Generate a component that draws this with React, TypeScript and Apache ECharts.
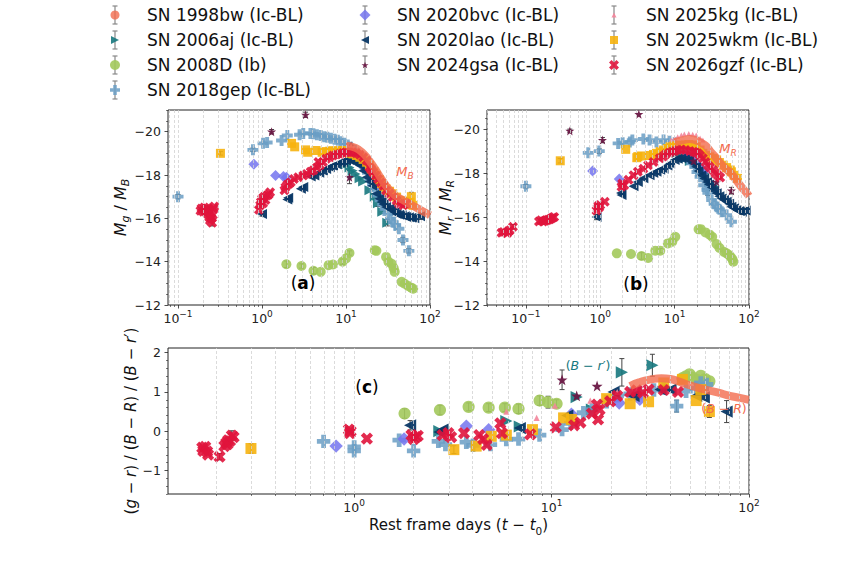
import React, { useEffect, useRef } from "react";
import * as echarts from "echarts";

const FONT = "DejaVu Sans";

const SN_NAMES = [
  "SN 1998bw (Ic-BL)", "SN 2006aj (Ic-BL)", "SN 2008D (Ib)", "SN 2018gep (Ic-BL)",
  "SN 2020bvc (Ic-BL)", "SN 2020lao (Ic-BL)", "SN 2024gsa (Ic-BL)", "SN 2025kg (Ic-BL)",
  "SN 2025wkm (Ic-BL)", "SN 2026gzf (Ic-BL)",
];

// ---------- Panel (a): M_g / M_B  [days, mag, (err)] ----------
const A_1998bw = [[10,-19.35],[13,-19.25],[16,-19.0],[19,-18.65],[22,-18.3],[26,-17.85],[30,-17.5],[35,-17.2],[40,-17.0],[50,-16.8],[60,-16.62],[70,-16.48],[80,-16.35],[90,-16.24],[100,-16.14]];
const A_2006aj = [[10,-18.5],[11,-18.35],[12,-18.2],[13,-18.05],[14.5,-17.85],[16,-17.7],[19,-17.3],[22,-17.0],[24,-16.7,0.15],[27,-16.3],[31,-15.8,0.15]];
const A_2008D = [[1.95,-13.88,0.15],[2.95,-13.8,0.1],[4.1,-13.58,0.15],[5.0,-13.53],[6.2,-13.84],[7.0,-13.87],[9.1,-14.0,0.12],[10,-14.15],[11,-14.4,0.1],[22,-14.53],[23,-14.5],[30,-14.22],[32,-14.0],[35,-13.9],[37,-13.7],[38,-13.53],[46,-13.07],[50,-12.98],[55,-12.88],[60,-12.8],[63,-12.75]];
const A_2018gep = [[0.1,-17.0,0.1],[0.78,-19.16,0.08],[1.03,-19.46],[1.15,-19.5],[1.71,-19.59],[2.0,-19.82],[2.8,-19.86],[3.1,-19.92],[3.77,-19.92],[4.1,-19.9],[4.5,-19.86],[5.0,-19.82],[5.5,-19.77],[6.0,-19.74],[6.6,-19.7],[7.3,-19.65],[8.0,-19.6],[8.8,-19.53],[9.6,-19.46],[10.5,-19.38],[11.5,-19.28],[12.7,-19.13],[13.9,-18.97],[15.3,-18.7],[16.8,-18.36],[18,-18.1],[19.3,-17.82],[20.7,-17.55],[22.2,-17.29],[24,-17.05],[25.5,-16.83],[27.3,-16.62],[29.2,-16.44],[31.5,-16.2],[33.9,-15.98],[36.5,-15.82],[39,-15.68],[42.6,-15.52],[47.7,-15.0,0.12],[56,-14.5,0.1]];
const A_2020bvc = [[0.8,-18.5],[1.45,-17.98],[1.8,-17.93],[1.95,-17.9],[12,-18.8],[14,-18.6],[17,-18.3],[21,-17.9],[25,-17.5]];
const A_2020lao = [[1.0,-16.2,0.1],[2.0,-16.87],[2.05,-16.95],[2.9,-17.36],[3.1,-17.45],[3.8,-17.93],[4.2,-17.98],[4.8,-18.1],[5.3,-18.2],[5.8,-18.28],[6.4,-18.36],[7.0,-18.42],[7.7,-18.5],[8.5,-18.56],[9.2,-18.6],[10,-18.67],[11,-18.68],[12.1,-18.64],[13.3,-18.55],[14.6,-18.44],[16,-18.2],[17.6,-17.9],[19,-17.7],[20.5,-17.5],[23,-17.13],[25,-16.9],[26.5,-16.75],[28,-16.65],[30,-16.52],[33,-16.45],[35,-16.37],[38,-16.28],[40,-16.2],[43,-16.17],[46,-16.14],[50,-16.1],[52,-16.06],[56,-16.05],[60,-16.03,0.12],[65,-16.0],[76,-16.1,0.15]];
const A_2024gsa = [[1.3,-20.0,0.1],[3.3,-20.78,0.12],[11.5,-19.35],[11,-17.9,0.3]];
const A_2025kg = [[10.5,-19.4],[11.5,-19.35],[12.5,-19.3],[14,-19.2],[15.5,-19.05],[17,-18.9]];
const A_2025wkm = [[0.32,-19.0,0.08],[2.25,-19.46],[2.45,-19.3],[3.3,-19.16],[3.5,-19.05],[4.4,-19.13],[5.2,-19.05],[5.8,-19.08],[6.4,-19.1],[7.0,-19.12],[7.7,-19.1],[8.5,-19.12],[9.2,-19.13],[10,-19.05],[11,-19.0],[12.1,-18.97],[13.3,-18.9],[14.6,-18.82],[16,-18.72],[17.6,-18.59],[19,-18.45],[20,-18.28],[21.5,-18.15],[23,-17.98],[25,-17.78],[26.5,-17.6],[28,-17.48],[30,-17.36],[33,-17.25],[36,-17.13],[40,-16.98],[43,-16.83],[47,-16.8],[52,-16.75],[55,-16.65],[58,-16.75],[60,-17.0,0.2],[63,-16.6]];
const A_2026gzf = [[0.185,-16.35],[0.19,-16.45],[0.2,-16.3],[0.205,-16.5],[0.21,-16.4],[0.215,-16.3],[0.22,-16.45],[0.225,-16.2],[0.23,-16.4],[0.235,-16.05],[0.24,-15.9],[0.245,-16.25],[0.25,-16.0],[0.255,-15.8,0.15],[0.26,-16.15],[0.265,-16.45],[0.27,-16.55],[0.92,-16.4],[0.95,-16.6],[0.97,-16.75],[1.0,-16.9],[1.03,-16.7],[1.06,-17.0],[1.1,-16.85],[1.15,-17.05],[1.2,-17.1],[1.25,-17.2],[1.85,-17.3],[1.9,-17.44],[2.0,-17.55],[2.1,-17.6],[2.2,-17.67],[2.4,-17.82],[2.7,-17.9],[3.1,-17.98],[3.4,-18.05],[3.8,-18.15],[4.1,-18.22],[4.5,-18.35],[4.7,-18.6],[4.9,-18.45],[5.3,-18.6],[5.8,-18.75],[6.4,-18.82],[7.0,-18.9],[7.7,-18.95],[8.4,-18.97],[9.2,-19.02],[10,-19.05],[11,-19.05],[12,-19.05],[13.3,-19.0],[14.6,-18.93],[16,-18.82],[17.6,-18.67],[19,-18.36],[20,-18.25],[21,-18.13],[22.5,-17.98],[24,-17.82],[26,-17.65],[28,-17.5],[30,-17.28],[33,-17.13],[36,-16.98],[40,-16.82],[43,-16.67],[48,-16.6],[52,-16.67]];

// ---------- Panel (b): M_r / M_R ----------
const B_1998bw = [[10,-19.4],[13,-19.5],[16,-19.55],[19,-19.5],[22,-19.4],[26,-19.25],[30,-19.0],[35,-18.75],[40,-18.5],[45,-18.3],[50,-18.15],[55,-18.05],[60,-17.9],[70,-17.6],[80,-17.35],[90,-17.15],[100,-16.95]];
const B_2006aj = [[10.5,-18.9],[12,-18.8],[14,-18.67],[16,-18.55],[19.5,-18.44],[22,-18.2],[25,-17.98],[29,-17.6],[33.7,-17.4]];
const B_2008D = [[1.67,-14.35],[2.59,-14.32],[3.59,-14.23,0.15],[4.4,-14.14],[5.5,-14.47],[6.4,-14.47,0.1],[8.1,-14.8],[9.3,-14.88],[10.2,-15.1],[21,-15.44],[22.5,-15.45],[26,-15.3],[29.6,-15.2],[32,-15.1],[36.6,-14.77],[40,-14.6],[46,-14.42],[50,-14.35],[54,-14.27],[57,-14.18],[60,-14.08],[61.5,-13.97]];
const B_2018gep = [[0.1,-17.4,0.08],[0.69,-18.92],[0.97,-19.0,0.1],[1.74,-19.35],[2.0,-19.38],[2.5,-19.42],[2.7,-19.5],[3.8,-19.55],[4.6,-19.5],[5.7,-19.42],[7.1,-19.5],[8.5,-19.45],[10,-19.38],[12.3,-19.2],[14,-18.95],[15.5,-18.67],[17,-18.45],[18.7,-18.29],[20,-18.05],[22,-17.83],[24.6,-17.45],[27.3,-17.23],[28,-17.1,0.12],[31.5,-16.77],[34,-16.6],[36.8,-16.47],[40,-16.35],[43,-16.24],[50,-16.09],[58,-15.79]];
const B_2020bvc = [[0.79,-18.1],[1.8,-17.73],[15,-18.8],[18,-18.6],[21,-18.35],[25,-18.1]];
const B_2020lao = [[0.89,-16.0,0.12],[1.93,-17.0],[1.9,-17.1],[2.8,-17.4],[3.2,-17.6],[3.8,-17.76],[4.6,-17.9],[5.2,-18.0],[5.7,-18.06],[6.4,-18.15],[7.1,-18.2],[8.0,-18.35],[8.7,-18.44],[10,-18.6],[11,-18.65],[12.3,-18.67],[14,-18.65],[15.5,-18.6],[17.5,-18.45],[19.5,-18.29],[21,-18.1],[23,-17.9],[25,-17.75],[27.3,-17.6],[29,-17.48],[31.5,-17.35],[34,-17.2],[36.8,-17.08],[40,-16.95],[43,-16.85],[46,-16.78],[50,-16.7],[54,-16.6],[58,-16.47],[63,-16.4],[68,-16.32],[74,-16.28],[80,-16.24,0.12],[90,-16.3,0.12]];
const B_2024gsa = [[0.39,-19.92,0.08],[1.07,-19.5,0.12],[3.3,-20.68],[18,-18.55],[36.7,-17.6],[58,-17.2,0.15]];
const B_2025kg = [[9,-19.5],[10,-19.58],[11,-19.65],[12.3,-19.73],[13.5,-19.78],[15.5,-19.8],[17.5,-19.77],[19.5,-19.73],[22,-19.6],[24,-19.5]];
const B_2025wkm = [[0.29,-18.56,0.1],[2.2,-19.08],[3.1,-18.7],[3.2,-18.75,0.12],[3.6,-18.78],[4.6,-18.8],[5.2,-18.85],[5.7,-18.9],[6.4,-18.98],[7.1,-19.05],[8.0,-19.12],[8.7,-19.2],[10,-19.23],[11,-19.25],[12.3,-19.27],[14,-19.28],[15.5,-19.3],[17.5,-19.28],[19.5,-19.2],[22,-19.05],[24,-18.9],[27,-18.8],[29.7,-18.74],[33,-18.67],[36.7,-18.6],[40,-18.48],[45,-18.36],[50,-18.25],[56,-18.14],[58,-18.06,0.12],[63,-17.9],[70,-17.76]];
const B_2026gzf = [[0.047,-15.29],[0.05,-15.32],[0.056,-15.26],[0.058,-15.35],[0.061,-15.4],[0.067,-15.56,0.1],[0.15,-15.8],[0.16,-15.85],[0.17,-15.8],[0.18,-15.83],[0.19,-15.86],[0.2,-15.88],[0.21,-15.9],[0.22,-15.94],[0.23,-15.98],[0.24,-16.0],[0.89,-16.3],[0.92,-16.4],[0.94,-16.5],[0.97,-16.45],[1.0,-16.55],[1.15,-16.7],[1.93,-17.38],[1.97,-17.53],[2.1,-17.45],[2.4,-17.7],[2.8,-17.9],[3.2,-18.06],[3.8,-18.2],[4.4,-18.36],[5.2,-18.5],[6.3,-18.67],[7.0,-18.75],[7.6,-18.86],[8.5,-18.92],[9.3,-18.97],[10,-19.0],[11,-19.05],[12.3,-19.07],[14,-19.05],[16,-19.0],[17.9,-18.97],[19,-18.95],[20.5,-18.9],[22,-18.8],[24,-18.67],[26,-18.5],[28,-18.36],[30,-18.25],[33,-18.14],[35,-18.0],[38,-17.9],[41,-17.8]];

// ---------- Panel (c): colours ----------
const C_1998bw = [[25,1.15],[28,1.25],[32,1.32],[36,1.35],[40,1.33],[45,1.25],[50,1.17],[60,1.06],[70,0.98],[80,0.9],[90,0.85],[100,0.8]];
const C_2006aj = [[2.7,0.0],[5.9,0.26],[6.9,0.12],[13.4,0.87],[16,0.55],[22.7,1.5,0.35],[32.4,1.68,0.28]];
const C_2008D = [[1.8,0.45,0.12],[2.72,0.54,0.12],[3.8,0.62,0.1],[4.8,0.6,0.1],[5.8,0.6,0.1],[6.8,0.57,0.12],[8.7,0.78,0.12],[9.6,0.74,0.15],[10.6,0.7,0.1],[46,1.35],[48,1.4],[50,1.45],[52,1.36],[55,1.3],[57,1.41],[60,1.33],[63,1.27]];
const C_2018gep = [[0.7,-0.26],[1.0,-0.4],[1.0,-0.5],[1.69,-0.23],[2.0,-0.5],[2.67,-0.26],[2.9,-0.34],[3.7,-0.28],[4.0,-0.36],[4.9,-0.34],[5.9,-0.21],[6.8,-0.2],[8.7,-0.1],[11.3,0.04],[12.5,0.2],[14.5,0.47],[16,0.55],[19,0.75],[21.5,0.9],[25,0.95],[28,0.98],[33,1.05],[37,1.1],[43,0.64,0.15],[48,1.02],[54,1.1],[57,1.23],[61,1.19]];
const C_2020bvc = [[0.81,-0.38],[1.79,-0.2],[3.7,0.13],[4.8,0.04],[12.6,0.43],[22,0.72],[28,0.81]];
const C_2020lao = [[1.92,0.15,0.12],[2.7,-0.02],[2.8,0.04],[6.9,0.08],[12,0.4],[20.6,1.0],[26,0.9],[35.6,1.06],[40,1.06],[54,0.9],[59,0.86],[77,0.5,0.28]];
const C_2024gsa = [[11.3,1.31,0.25],[13.4,0.9],[17,1.15]];
const C_2025kg = [[5.9,0.5],[8.4,0.34],[10.4,0.65],[15.7,0.78],[21.5,1.0]];
const C_2025wkm = [[0.3,-0.44,0.12],[3.2,-0.47,0.1],[4.15,-0.38],[4.95,-0.13],[5.9,-0.1],[8,0.04],[11.5,0.34],[12.6,0.3],[19,0.83],[25,0.7],[31,0.75],[37,1.23],[46,1.32],[54,0.78],[57,1.06],[63,0.5,0.15]];
const C_2026gzf = [[0.17,-0.42],[0.172,-0.5],[0.176,-0.4],[0.18,-0.52],[0.182,-0.6],[0.208,-0.65,0.08],[0.22,-0.38],[0.225,-0.3],[0.228,-0.33],[0.23,-0.23],[0.235,-0.25],[0.24,-0.11,0.12],[0.245,-0.15],[0.94,0.04],[0.95,-0.05],[0.96,0.0],[1.16,-0.19],[1.95,-0.1],[2.0,-0.2],[2.05,-0.15],[2.1,-0.12],[2.8,-0.1],[3.0,-0.05],[3.1,-0.15],[3.6,-0.05],[4.3,-0.1],[4.5,-0.2],[4.7,-0.35],[5.5,0.2],[5.6,-0.05],[7.8,-0.08],[10.5,0.1],[13,0.15],[14,0.22],[16,0.45],[17,0.68],[17.5,0.55],[17.2,0.3],[19.8,0.76],[21.5,0.9],[25,1.0],[27,1.04],[29,0.98],[31,1.06],[37,1.05],[43.7,1.0]];

const PANELS = [
  [A_1998bw, A_2006aj, A_2008D, A_2018gep, A_2020bvc, A_2020lao, A_2024gsa, A_2025kg, A_2025wkm, A_2026gzf],
  [B_1998bw, B_2006aj, B_2008D, B_2018gep, B_2020bvc, B_2020lao, B_2024gsa, B_2025kg, B_2025wkm, B_2026gzf],
  [C_1998bw, C_2006aj, C_2008D, C_2018gep, C_2020bvc, C_2020lao, C_2024gsa, C_2025kg, C_2025wkm, C_2026gzf],
];

// ---------- axes ----------
const X_RANGE = [[0.076, 100], [0.03, 100], [0.114, 100]];
const Y_RANGE = [[-21, -12], [-20.87, -12], [-1.6, 2.12]];
const X_MAJOR_EXP = [-1, 0, 1, 2];
const Y_MAJOR = [[-20, -18, -16, -14, -12], [-20, -18, -16, -14, -12], [-1, 0, 1, 2]];
const Y_MINOR_STEP = [0.5, 0.5, 0.2];

// ---------- layout & styles ----------
const GRID_BOX = [
  { left: 168, top: 110, width: 262, height: 195 },
  { left: 487, top: 110, width: 262, height: 195 },
  { left: 168, top: 348, width: 581, height: 146 },
];
const Y_NAME_GAP = [37, 31, 26];
const Y_NAMES = [
  "{i|M}{si|g} / {i|M}{si|B}",
  "{i|M}{si|r} / {i|M}{si|R}",
  "({i|g} \u2212 {i|r}) / ({i|B} \u2212 {i|R}) / ({i|B} \u2212 {i|r}\u2032)",
];

const PLUS = "path://M-3.2,-9L3.2,-9L3.2,-3.2L9,-3.2L9,3.2L3.2,3.2L3.2,9L-3.2,9L-3.2,3.2L-9,3.2L-9,-3.2L-3.2,-3.2Z";
const XMARK = "path://M-9,-4.5L-4.5,-9L0,-4.5L4.5,-9L9,-4.5L4.5,0L9,4.5L4.5,9L0,4.5L-4.5,9L-9,4.5L-4.5,0Z";
const STAR = "path://M0,-10L2.35,-3.24L9.51,-3.09L3.8,1.24L5.88,8.09L0,4L-5.88,8.09L-3.8,1.24L-9.51,-3.09L-2.35,-3.24Z";
const TRI_R = "path://M-5,-5L5,0L-5,5Z";
const TRI_L = "path://M5,-5L-5,0L5,5Z";
const TRI_U = "path://M0,-5L5,5L-5,5Z";
const DIAM = "path://M0,-6L6,0L0,6L-6,0Z";

const SN_STYLE = [
  { color: "#f36b4e", symbol: "circle", size: 9, opacity: 0.8 },
  { color: "#17787e", symbol: TRI_R, size: 10, opacity: 0.9 },
  { color: "#a3c95c", symbol: "circle", size: 10, opacity: 0.9 },
  { color: "#6a9dc4", symbol: PLUS, size: 11, opacity: 0.85 },
  { color: "#7474ee", symbol: DIAM, size: 11, opacity: 0.85 },
  { color: "#0a3866", symbol: TRI_L, size: 10, opacity: 0.95 },
  { color: "#6a1845", symbol: STAR, size: 9, opacity: 0.95 },
  { color: "#f3859b", symbol: TRI_U, size: 5, opacity: 0.9 },
  { color: "#f6b20e", symbol: "rect", size: 9, opacity: 0.9 },
  { color: "#e0143c", symbol: XMARK, size: 10, opacity: 0.9 },
];
const LEGEND_ICON_SIZE = [9, 8, 10, 10, 11, 8, 7, 5, 8, 10];

const LEGEND_COLS = [[0, 1, 2, 3], [4, 5, 6], [7, 8, 9]];
const LEGEND_MARK_X = [115, 365, 614];
const LEGEND_TEXT_DX = 32;
const LEGEND_ROW_Y0 = 15;
const LEGEND_ROW_DY = 25;

const MINUS = "\u2212";

function logGridValues(xmin: number, xmax: number) {
  const out: number[] = [];
  for (let e = -2; e <= 2; e++) {
    for (let k = 1; k <= 9; k++) {
      const v = k * Math.pow(10, e);
      if (v >= xmin * 0.999 && v <= xmax * 1.001) out.push(Math.log10(v));
    }
  }
  return out;
}

function buildOption() {
  const grid = GRID_BOX.map((g) => ({
    ...g,
    show: true,
    borderColor: "#222",
    borderWidth: 1,
    backgroundColor: "transparent",
  }));

  const xAxis: any[] = [];
  const yAxis: any[] = [];
  const tickLine = { color: "#222", width: 0.8 };
  const noLine = { show: false, onZero: false };

  for (let g = 0; g < 3; g++) {
    const lmin = Math.log10(X_RANGE[g][0]);
    const lmax = Math.log10(X_RANGE[g][1]);
    const majors = X_MAJOR_EXP.filter((e) => e >= lmin - 1e-9 && e <= lmax + 1e-9);
    xAxis.push({
      type: "value", gridIndex: g, min: lmin, max: lmax, position: "bottom",
      axisLine: noLine, splitLine: { show: false },
      axisTick: { show: true, customValues: majors, length: 3.5, lineStyle: tickLine },
      axisLabel: {
        customValues: majors, margin: 4.5, color: "#222",
        formatter: (v: number) => {
          const e = Math.round(v);
          return `{b|10}{s|${e < 0 ? MINUS : ""}${Math.abs(e)}}`;
        },
        rich: {
          b: { fontSize: 12.5, lineHeight: 18, fontFamily: FONT, color: "#222" },
          s: { fontSize: 9, lineHeight: 9, verticalAlign: "top", fontFamily: FONT, color: "#222" },
        },
      },
      ...(g === 2
        ? {
            name: "Rest frame days ({i|t} \u2212 {i|t}{s|0})",
            nameLocation: "middle",
            nameGap: 20,
            nameMoveOverlap: false,
            nameTextStyle: {
              fontSize: 15, color: "#111", fontFamily: FONT, lineHeight: 22,
              rich: {
                i: { fontSize: 15, fontStyle: "italic", lineHeight: 22, fontFamily: FONT, color: "#111" },
                s: { fontSize: 10.5, lineHeight: 11, verticalAlign: "bottom", fontFamily: FONT, color: "#111" },
              },
            },
          }
        : {}),
    });
  }
  for (let g = 0; g < 3; g++) {
    const [ymin, ymax] = Y_RANGE[g];
    yAxis.push({
      type: "value", gridIndex: g, min: ymin, max: ymax, inverse: g < 2, position: "left",
      axisLine: noLine, splitLine: { show: false },
      axisTick: { show: true, customValues: Y_MAJOR[g], length: 3.5, lineStyle: tickLine },
      axisLabel: {
        customValues: Y_MAJOR[g], margin: 7, color: "#222", fontSize: 12.5, fontFamily: FONT,
        formatter: (v: number) => (v < 0 ? MINUS : "") + Math.abs(Math.round(v * 10) / 10),
      },
      name: Y_NAMES[g],
      nameLocation: "middle",
      nameRotate: 90,
      nameGap: Y_NAME_GAP[g],
      nameMoveOverlap: false,
      nameTextStyle: {
        fontSize: g < 2 ? 16 : 15, color: "#111", fontFamily: FONT, lineHeight: 22,
        rich: {
          i: { fontSize: g < 2 ? 16 : 15, fontStyle: "italic", lineHeight: 22, fontFamily: FONT, color: "#111" },
          si: { fontSize: 11, fontStyle: "italic", lineHeight: 12, verticalAlign: "bottom", fontFamily: FONT, color: "#111" },
        },
      },
    });
  }
  for (let g = 0; g < 3; g++) {
    const lmin = Math.log10(X_RANGE[g][0]);
    const lmax = Math.log10(X_RANGE[g][1]);
    const minors = logGridValues(X_RANGE[g][0], X_RANGE[g][1]).filter(
      (v) => Math.abs(v - Math.round(v)) > 1e-6
    );
    xAxis.push({
      type: "value", gridIndex: g, min: lmin, max: lmax, position: "bottom",
      axisLine: noLine, splitLine: { show: false }, axisLabel: { show: false },
      axisTick: { show: true, customValues: minors, length: 2, lineStyle: { color: "#222", width: 0.6 } },
    });
  }
  for (let g = 0; g < 3; g++) {
    const [ymin, ymax] = Y_RANGE[g];
    const st = Y_MINOR_STEP[g];
    const minors: number[] = [];
    for (let v = Math.ceil(ymin / st) * st; v <= ymax + 1e-9; v += st) {
      const r = Math.round(v * 100) / 100;
      if (!Y_MAJOR[g].some((m) => Math.abs(m - r) < 1e-6)) minors.push(r);
    }
    yAxis.push({
      type: "value", gridIndex: g, min: ymin, max: ymax, inverse: g < 2, position: "left",
      axisLine: noLine, splitLine: { show: false }, axisLabel: { show: false },
      axisTick: { show: true, customValues: minors, length: 2, lineStyle: { color: "#222", width: 0.6 } },
    });
  }

  const series: any[] = [];
  for (let g = 0; g < 3; g++) {
    series.push({
      type: "scatter", xAxisIndex: g, yAxisIndex: g, data: [], silent: true, name: `grid${g}`,
      markLine: {
        silent: true, symbol: ["none", "none"], label: { show: false }, animation: false,
        lineStyle: { color: "#d2d2d2", type: [3, 2], width: 0.8 },
        emphasis: { disabled: true },
        data: logGridValues(X_RANGE[g][0], X_RANGE[g][1]).map((v) => ({ xAxis: v })),
      },
    });
    PANELS[g].forEach((arr: number[][], i: number) => {
      const st = SN_STYLE[i];
      const xy = arr.map((d) => [Math.log10(d[0]), d[1]]);
      if (i === 0) {
        series.push({
          type: "line", name: SN_NAMES[i], xAxisIndex: g, yAxisIndex: g, data: xy,
          smooth: true, showSymbol: false, symbol: "circle",
          itemStyle: { color: st.color },
          lineStyle: { color: st.color, width: 8, opacity: 0.8 },
          silent: true,
        });
        return;
      }
      const errs = arr.filter((d) => d.length > 2).map((d) => [Math.log10(d[0]), d[1], d[2]]);
      if (errs.length) {
        series.push({
          type: "custom", name: `${SN_NAMES[i]} err`, xAxisIndex: g, yAxisIndex: g, data: errs,
          encode: { x: 0, y: 1 }, silent: true,
          renderItem: (_p: any, api: any) => {
            const x = api.value(0), y = api.value(1), e = api.value(2);
            const p1 = api.coord([x, y - e]);
            const p2 = api.coord([x, y + e]);
            const style = { stroke: "#444", lineWidth: 1 };
            const cap = 2.5;
            return {
              type: "group",
              children: [
                { type: "line", shape: { x1: p1[0], y1: p1[1], x2: p2[0], y2: p2[1] }, style },
                { type: "line", shape: { x1: p1[0] - cap, y1: p1[1], x2: p1[0] + cap, y2: p1[1] }, style },
                { type: "line", shape: { x1: p2[0] - cap, y1: p2[1], x2: p2[0] + cap, y2: p2[1] }, style },
              ],
            };
          },
        });
      }
      series.push({
        type: "scatter", name: SN_NAMES[i], xAxisIndex: g, yAxisIndex: g, data: xy,
        symbol: st.symbol, symbolSize: g === 2 ? st.size * 1.22 : st.size,
        itemStyle: { color: st.color, opacity: st.opacity },
        silent: true,
      });
    });
  }

  // legend: error-bar glyph + marker + label
  const graphic: any[] = [];
  LEGEND_COLS.forEach((col, c) => {
    col.forEach((_i, r) => {
      const cx = LEGEND_MARK_X[c];
      const cy = LEGEND_ROW_Y0 + r * LEGEND_ROW_DY;
      const s = { stroke: "#888", lineWidth: 1.2 };
      graphic.push({ type: "line", z: 0, shape: { x1: cx, y1: cy - 9, x2: cx, y2: cy + 9 }, style: s, silent: true });
      graphic.push({ type: "line", z: 0, shape: { x1: cx - 2.5, y1: cy - 9, x2: cx + 2.5, y2: cy - 9 }, style: s, silent: true });
      graphic.push({ type: "line", z: 0, shape: { x1: cx - 2.5, y1: cy + 9, x2: cx + 2.5, y2: cy + 9 }, style: s, silent: true });
    });
  });
  const legend = LEGEND_COLS.map((col, c) =>
    col.map((i, r) => ({
      orient: "vertical",
      left: LEGEND_MARK_X[c] - LEGEND_ICON_SIZE[i] / 2,
      top: LEGEND_ROW_Y0 + r * LEGEND_ROW_DY - 10,
      padding: 0,
      itemWidth: LEGEND_ICON_SIZE[i],
      itemHeight: LEGEND_ICON_SIZE[i],
      selectedMode: false,
      symbolKeepAspect: true,
      z: 5,
      textStyle: {
        fontSize: 17, lineHeight: 20, color: "#111", fontFamily: FONT,
        padding: [0, 0, 0, LEGEND_TEXT_DX - LEGEND_ICON_SIZE[i] / 2 - 5],
      },
      data: [{
        name: SN_NAMES[i], icon: SN_STYLE[i].symbol,
        itemStyle: { color: SN_STYLE[i].color, opacity: SN_STYLE[i].opacity },
      }],
    }))
  ).flat();

  const txt = (text: string, x: number, y: number, size: number, fill: string, rich: any) => ({
    type: "text", x, y, z: 10, silent: true,
    style: {
      text, fill, fontSize: size, fontFamily: FONT,
      textAlign: "center", textVerticalAlign: "middle", align: "center", verticalAlign: "middle",
      rich,
    },
  });
  const salmon = SN_STYLE[0].color;
  const teal = SN_STYLE[1].color;
  const mRich = (fill: string, size: number) => ({
    i: { fontStyle: "italic", fontSize: size, lineHeight: size + 6, fill, fontFamily: FONT },
    s: { fontStyle: "italic", fontSize: size * 0.7, lineHeight: size * 0.7, verticalAlign: "bottom", fill, fontFamily: FONT },
    n: { fontSize: size, lineHeight: size + 6, fill, fontFamily: FONT },
  });
  graphic.push(txt("{i|M}{s|B}", 405, 171, 13, salmon, mRich(salmon, 13)));
  graphic.push(txt("{i|M}{s|R}", 728, 148, 13, salmon, mRich(salmon, 13)));
  graphic.push(txt("{n|(}{i|B}{n| \u2212 }{i|r}{n|\u2032)}", 588, 365, 12.5, teal, mRich(teal, 12.5)));
  graphic.push(txt("{n|(}{i|B}{n| \u2212 }{i|R}{n|)}", 724, 408, 12.5, salmon, mRich(salmon, 12.5)));
  const bRich = {
    n: { fontSize: 17, fill: "#000", fontFamily: FONT },
    b: { fontSize: 17, fontWeight: "bold", fill: "#000", fontFamily: FONT },
  };
  graphic.push(txt("{n|(}{b|a}{n|)}", 303, 283, 17, "#000", bRich));
  graphic.push(txt("{n|(}{b|b}{n|)}", 636, 284, 17, "#000", bRich));
  graphic.push(txt("{n|(}{b|c}{n|)}", 367, 387, 17, "#000", bRich));

  return {
    animation: false,
    backgroundColor: "#fff",
    textStyle: { fontFamily: FONT },
    grid,
    xAxis,
    yAxis,
    legend,
    series,
    graphic,
  };
}

export default function App() {
  const ref = useRef<HTMLDivElement>(null);
  useEffect(() => {
    if (!ref.current) return;
    const chart = echarts.init(ref.current, undefined, { renderer: "svg" });
    chart.setOption(buildOption() as any);
    return () => chart.dispose();
  }, []);
  return (
    <div
      ref={ref}
      style={{ position: "fixed", left: 0, top: 0, width: 851, height: 570, background: "#fff" }}
    />
  );
}
